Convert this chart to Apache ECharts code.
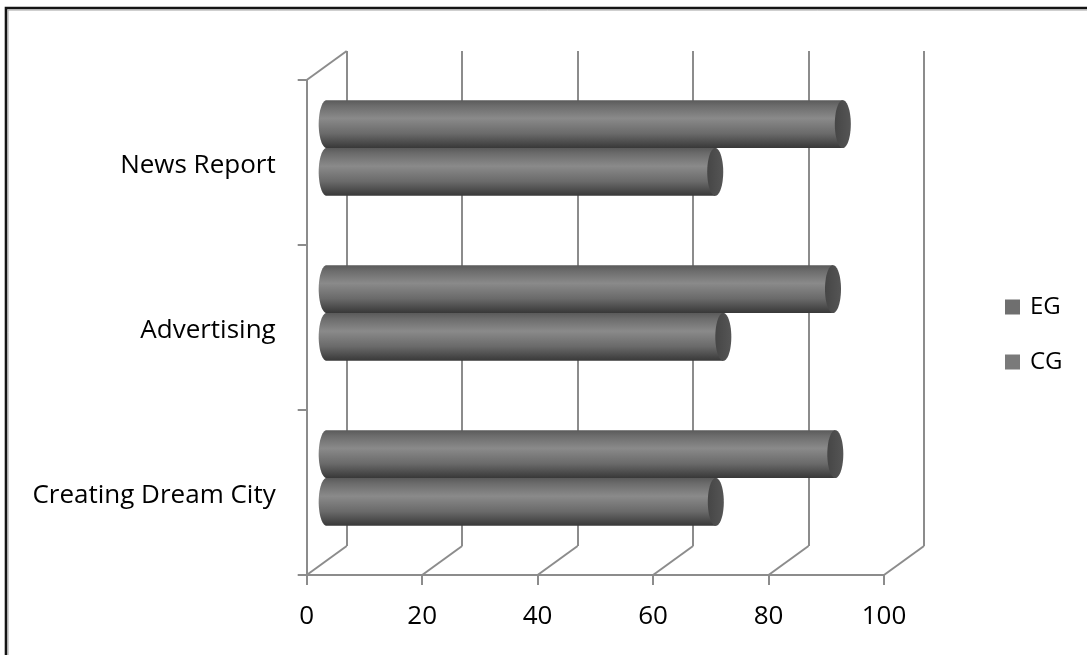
<!DOCTYPE html>
<html>
<head>
<meta charset="utf-8">
<script src="https://cdn.jsdelivr.net/npm/echarts@6/dist/echarts.min.js"></script>
<style>
  html, body { margin: 0; padding: 0; background: #ffffff; }
  #chart { width: 1087px; height: 655px; }
</style>
</head>
<body>
<div id="chart"></div>
<script>
// Categories listed bottom to top, as the category axis draws them
const categories = ['Creating Dream City', 'Advertising', 'News Report'];
const seriesNames = ['EG', 'CG'];
const egValues = [88.1, 87.7, 89.4];
const cgValues = [67.4, 68.7, 67.3];
const xTicks = [0, 20, 40, 60, 80, 100];

// Layout of the 3-D box: front plane, back wall offset by the depth vector
const FRONT = { left: 306.7, top: 80, width: 577.3, height: 495 };
const DEPTH_X = 40;
const DEPTH_Y = 29;
const CATEGORY_GAP = 0.42;   // share of a category band left empty
const CAP_RX = 8;            // horizontal radius of cylinder end caps

const FONT = 'Open Sans';
const AXIS_GREY = '#8c8c8c';

const chart = echarts.init(document.getElementById('chart'), null, { renderer: 'canvas' });

function gridAt(fraction) {
  return {
    left: FRONT.left + DEPTH_X * fraction,
    top: FRONT.top - DEPTH_Y * fraction,
    width: FRONT.width,
    height: FRONT.height,
    containLabel: false
  };
}

function valueAxis(gridIndex, extra) {
  return Object.assign({
    type: 'value', gridIndex: gridIndex,
    min: xTicks[0], max: xTicks[xTicks.length - 1], interval: xTicks[1] - xTicks[0],
    axisLine: { show: false }, axisTick: { show: false },
    axisLabel: { show: false }, splitLine: { show: false }
  }, extra || {});
}

function categoryAxis(gridIndex, extra) {
  return Object.assign({
    type: 'category', gridIndex: gridIndex, data: categories, boundaryGap: true,
    axisLine: { show: false }, axisTick: { show: false },
    axisLabel: { show: false }, splitLine: { show: false }
  }, extra || {});
}

// Cylinder for one bar; side = -1 draws above the band centre, +1 below it
function cylinder(side) {
  return function (params, api) {
    const v = api.value(0);
    const c = api.value(1);
    const start = api.coord([0, c]);
    const end = api.coord([v, c]);
    const band = api.size([0, 1])[1];
    const h = band * (1 - CATEGORY_GAP) / 2;
    const cy = start[1] + side * h / 2;
    const ry = h / 2;
    const x0 = start[0];
    const x1 = end[0];
    const steps = 36;

    const body = [];
    for (let i = 0; i <= steps; i++) {
      const t = 1.5 * Math.PI - Math.PI * i / steps;
      body.push([x0 + CAP_RX * Math.cos(t), cy + ry * Math.sin(t)]);
    }
    body.push([x1, cy + ry]);
    body.push([x1, cy - ry]);

    const cap = [];
    for (let i = 0; i < steps * 2; i++) {
      const t = Math.PI * i / steps;
      cap.push([x1 + CAP_RX * Math.cos(t), cy + ry * Math.sin(t)]);
    }

    return {
      type: 'group',
      children: [
        {
          type: 'polygon',
          shape: { points: body },
          style: {
            fill: new echarts.graphic.LinearGradient(0, 0, 0, 1, [
              { offset: 0, color: '#5a5a5a' },
              { offset: 0.12, color: '#6c6c6c' },
              { offset: 0.38, color: '#8a8a8a' },
              { offset: 0.7, color: '#6a6a6a' },
              { offset: 1, color: '#383838' }
            ])
          }
        },
        {
          type: 'polygon',
          shape: { points: cap },
          style: {
            fill: new echarts.graphic.LinearGradient(0, 0, 1, 0, [
              { offset: 0, color: '#464646' },
              { offset: 1, color: '#555555' }
            ])
          }
        }
      ]
    };
  };
}

const option = {
  animation: false,
  backgroundColor: '#ffffff',
  textStyle: { fontFamily: FONT },
  grid: [gridAt(0), gridAt(1), gridAt(0.5)],
  xAxis: [
    valueAxis(0, {
      axisLine: { show: true, lineStyle: { color: AXIS_GREY, width: 2 } },
      axisTick: { show: true, length: 10, lineStyle: { color: AXIS_GREY, width: 2 } },
      axisLabel: { show: true, margin: 29, fontSize: 26, color: '#000000', fontFamily: FONT }
    }),
    valueAxis(1, {
      splitLine: { show: true, showMinLine: true, showMaxLine: true, lineStyle: { color: AXIS_GREY, width: 2 } }
    }),
    valueAxis(2)
  ],
  yAxis: [
    categoryAxis(0, {
      axisLine: { show: true, lineStyle: { color: AXIS_GREY, width: 2 } },
      axisTick: { show: true, length: 9, lineStyle: { color: AXIS_GREY, width: 2 } },
      axisLabel: {
        show: true, margin: 31,
        formatter: function (name) { return '{cat|' + name + '}'; },
        rich: {
          cat: { fontSize: 26, color: '#000000', fontFamily: FONT, padding: [7, 0, 0, 0] }
        }
      }
    }),
    categoryAxis(1),
    categoryAxis(2)
  ],
  legend: {
    data: seriesNames,
    orient: 'vertical',
    left: 1005,
    top: 295,
    padding: 0,
    icon: 'rect',
    itemWidth: 15,
    itemHeight: 15,
    itemGap: 31,
    textStyle: { fontSize: 24, lineHeight: 24, color: '#000000', fontFamily: FONT, padding: [0, 0, 0, 5] }
  },
  graphic: [
    {
      type: 'polyline',
      shape: { points: [[6, 655], [6, 8], [1087, 8]] },
      style: { stroke: '#141414', lineWidth: 2.6, fill: null }
    },
    {
      type: 'polyline',
      shape: { points: [[8, 655], [8, 10], [1087, 10]] },
      style: { stroke: '#a0a0a0', lineWidth: 1, fill: null }
    }
  ],
  series: [
    {
      // floor edges running from each front tick back to the wall
      type: 'custom',
      name: 'floor',
      xAxisIndex: 0, yAxisIndex: 0,
      silent: true, z: 1,
      data: xTicks.map(function (v) { return [v, 0]; }),
      encode: { x: 0, y: 1 },
      renderItem: function (params, api) {
        const cs = params.coordSys;
        const x = api.coord([api.value(0), 0])[0];
        const y = cs.y + cs.height;
        return {
          type: 'line',
          shape: { x1: x, y1: y, x2: x + DEPTH_X, y2: y - DEPTH_Y },
          style: { stroke: AXIS_GREY, lineWidth: 2 }
        };
      }
    },
    {
      // top edge of the side wall
      type: 'custom',
      name: 'wall',
      xAxisIndex: 0, yAxisIndex: 0,
      silent: true, z: 1,
      data: [[xTicks[0], categories.length - 1]],
      encode: { x: 0, y: 1 },
      renderItem: function (params, api) {
        const cs = params.coordSys;
        const x = api.coord([api.value(0), 0])[0];
        return {
          type: 'line',
          shape: { x1: x, y1: cs.y, x2: x + DEPTH_X, y2: cs.y - DEPTH_Y },
          style: { stroke: AXIS_GREY, lineWidth: 2 }
        };
      }
    },
    {
      type: 'custom',
      name: seriesNames[0],
      xAxisIndex: 2, yAxisIndex: 2,
      z: 5,
      itemStyle: { color: '#6f6f6f' },
      data: egValues.map(function (v, i) { return [v, i]; }),
      encode: { x: 0, y: 1 },
      renderItem: cylinder(-1)
    },
    {
      type: 'custom',
      name: seriesNames[1],
      xAxisIndex: 2, yAxisIndex: 2,
      z: 4,
      itemStyle: { color: '#7a7a7a' },
      data: cgValues.map(function (v, i) { return [v, i]; }),
      encode: { x: 0, y: 1 },
      renderItem: cylinder(1)
    }
  ]
};

chart.setOption(option);
</script>
</body>
</html>
